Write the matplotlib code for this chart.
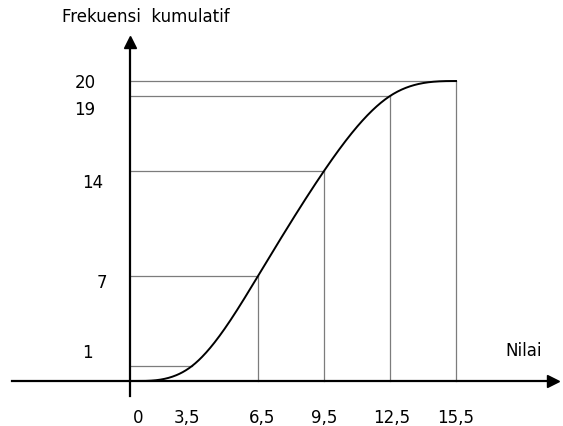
import numpy as np
import matplotlib
matplotlib.use("Agg")
import matplotlib.pyplot as plt
from matplotlib.transforms import ScaledTranslation

# data
nilai = [0, 3.5, 6.5, 9.5, 12.5, 15.5]
frek_kum = [0, 1, 7, 14, 19, 20]
x_labels = ["0", "3,5", "6,5", "9,5", "12,5", "15,5"]
y_ticks = [1, 7, 14, 19, 20]
y_labels = ["1", "7", "14", "19", "20"]

# hand placement of the labels in the drawing (pixel nudges)
x_label_dx = [8, -5, 4, 0, 2, 0]
y_label_dx = [-43, -28, -37, -45.5, -44.5]
y_label_dy = [16, -3.5, -9, -11, 1]

W, H = 563, 427
fig = plt.figure(figsize=(W / 100, H / 100), dpi=100)

left_px, right_px, top_px, bottom_px = 12, 553, 43, 397
ax = fig.add_axes([left_px / W, 1 - bottom_px / H,
                   (right_px - left_px) / W, (bottom_px - top_px) / H])

# hand-drawn axis: the first interval is drawn shorter than the rest
def fwd(x):
    x = np.asarray(x, dtype=float)
    return np.where(x < 3.5, 130 + x * 62 / 3.5, 192 + (x - 3.5) * 22)

def inv(u):
    u = np.asarray(u, dtype=float)
    return np.where(u < 192, (u - 130) * 3.5 / 62, 3.5 + (u - 192) / 22)

ax.set_xscale('function', functions=(fwd, inv))
ax.set_xlim(float(inv(left_px)), float(inv(right_px)))
y_px_per_unit = 15.0
ax.set_ylim(-(bottom_px - 382) / y_px_per_unit, (382 - top_px) / y_px_per_unit)

# smooth curve: clamped cubic spline (flat ends) in drawing space
us = fwd(np.array(nilai, float))
ys = np.array(frek_kum, float)
n = len(us)
hh = np.diff(us)
A = np.zeros((n, n))
b = np.zeros(n)
A[0, 0], A[0, 1] = 2 * hh[0], hh[0]
b[0] = 6 * ((ys[1] - ys[0]) / hh[0] - 0.0)
A[-1, -2], A[-1, -1] = hh[-1], 2 * hh[-1]
b[-1] = 6 * (0.0 - (ys[-1] - ys[-2]) / hh[-1])
for i in range(1, n - 1):
    A[i, i - 1] = hh[i - 1]
    A[i, i] = 2 * (hh[i - 1] + hh[i])
    A[i, i + 1] = hh[i]
    b[i] = 6 * ((ys[i + 1] - ys[i]) / hh[i] - (ys[i] - ys[i - 1]) / hh[i - 1])
M = np.linalg.solve(A, b)
cu, cy = [], []
for k in range(n - 1):
    u = np.linspace(us[k], us[k + 1], 80)
    a = us[k + 1] - u
    c = u - us[k]
    val = (M[k] * a**3 + M[k + 1] * c**3) / (6 * hh[k]) \
        + (ys[k] / hh[k] - M[k] * hh[k] / 6) * a \
        + (ys[k + 1] / hh[k] - M[k + 1] * hh[k] / 6) * c
    cu.append(u)
    cy.append(val)
cu = np.concatenate(cu)
cy = np.minimum(np.concatenate(cy), ys.max())
cx = inv(cu)

# guide lines
gray = "#7c7c7c"
for i in range(1, len(nilai)):
    ax.plot([0, nilai[i]], [frek_kum[i], frek_kum[i]], color=gray, lw=0.9, zorder=1)
    if i >= 2:
        ax.plot([nilai[i], nilai[i]], [0, frek_kum[i]], color=gray, lw=0.9, zorder=1)

ax.plot(cx, cy, color="black", lw=1.4, zorder=3)

# axes styling
for s in ["top", "right"]:
    ax.spines[s].set_visible(False)
ax.spines["left"].set_position(("data", 0))
ax.spines["bottom"].set_position(("data", 0))
ax.spines["left"].set_linewidth(1.6)
ax.spines["bottom"].set_linewidth(1.6)

ax.plot(1, 0, marker=">", color="black", ms=9, transform=ax.get_yaxis_transform(), clip_on=False)
ax.plot(0, 1, marker="^", color="black", ms=9, transform=ax.get_xaxis_transform(), clip_on=False)

ax.set_xticks(nilai)
ax.set_xticklabels(x_labels)
ax.set_yticks(y_ticks)
ax.set_yticklabels(y_labels)
ax.xaxis.set_minor_locator(matplotlib.ticker.NullLocator())
ax.tick_params(axis="both", length=0, labelsize=12)
ax.tick_params(axis="x", pad=19.5)
ax.tick_params(axis="y", pad=0)

for lbl, dx in zip(ax.get_xticklabels(), x_label_dx):
    lbl.set_transform(lbl.get_transform() + ScaledTranslation(dx / 100, 0, fig.dpi_scale_trans))
for lbl, dx, dy in zip(ax.get_yticklabels(), y_label_dx, y_label_dy):
    lbl.set_horizontalalignment("center")
    lbl.set_transform(lbl.get_transform() + ScaledTranslation(dx / 100, dy / 100, fig.dpi_scale_trans))

fig.text(146 / W, 1 - 17 / H, "Frekuensi  kumulatif", ha="center", va="center", fontsize=12)
fig.text(524 / W, 1 - 351 / H, "Nilai", ha="center", va="center", fontsize=12)

fig.savefig("out.png", dpi=100)
